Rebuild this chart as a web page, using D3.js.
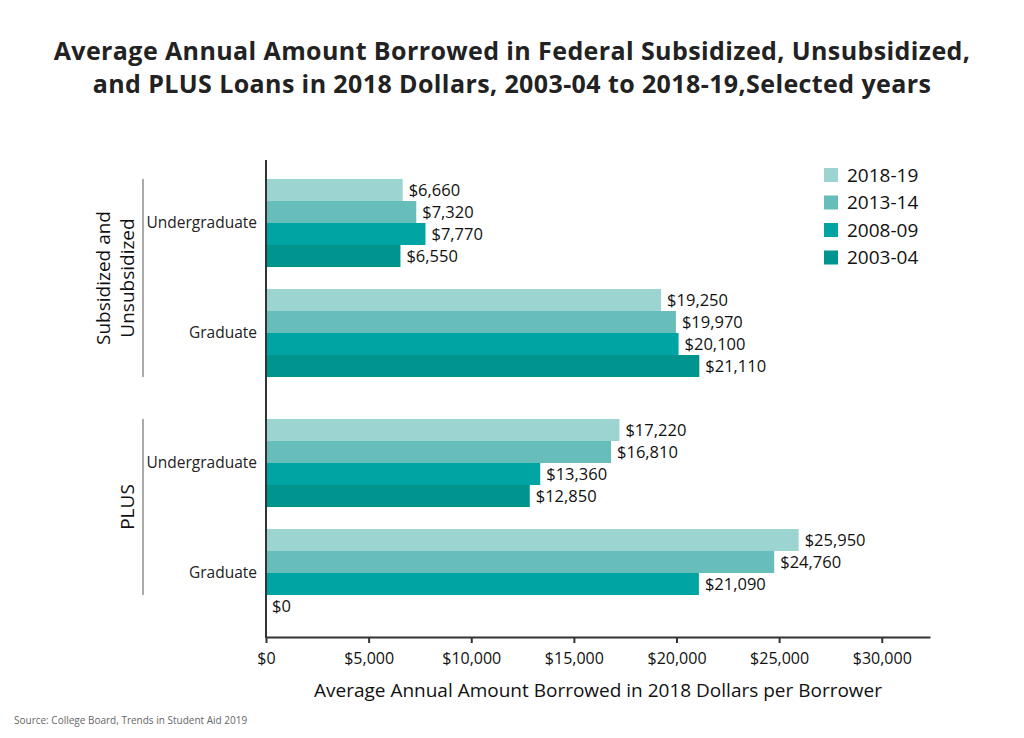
<!DOCTYPE html>
<html><head><meta charset="utf-8">
<script src="https://cdn.jsdelivr.net/npm/d3@7"></script>
<style>body{margin:0;background:#fff}svg{display:block}text{font-family:"Open Sans","Noto Sans",sans-serif}</style>
</head><body>
<script>
const loanTypes = ["Subsidized and Unsubsidized", "PLUS"];
const levels = ["Undergraduate", "Graduate"];
const years = ["2018-19", "2013-14", "2008-09", "2003-04"];
const subUndergrad = [6660, 7320, 7770, 6550];
const subGraduate = [19250, 19970, 20100, 21110];
const plusUndergrad = [17220, 16810, 13360, 12850];
const plusGraduate = [25950, 24760, 21090, 0];
const xTicks = [0, 5000, 10000, 15000, 20000, 25000, 30000];
const colors = ["#9bd4d1", "#66bdb9", "#00a5a3", "#00948f"];

const values = {
  "Subsidized and Unsubsidized": {Undergraduate: subUndergrad, Graduate: subGraduate},
  "PLUS": {Undergraduate: plusUndergrad, Graduate: plusGraduate}
};

const W = 1024, H = 738;
const svg = d3.select("body").append("svg").attr("width", W).attr("height", H);

// title
svg.append("text").attr("x", 512).attr("y", 60).attr("text-anchor", "middle")
  .attr("font-size", 25).attr("font-weight", 700).attr("fill", "#222").attr("letter-spacing", 0.4)
  .text("Average Annual Amount Borrowed in Federal Subsidized, Unsubsidized,");
svg.append("text").attr("x", 512).attr("y", 93).attr("text-anchor", "middle")
  .attr("font-size", 25).attr("font-weight", 700).attr("fill", "#222").attr("letter-spacing", 0.4)
  .text("and PLUS Loans in 2018 Dollars, 2003-04 to 2018-19,Selected years");

const x = d3.scaleLinear().domain([0, 32350]).range([266, 930]);
const yOuter = d3.scaleBand().domain(loanTypes).range([168, 628]).paddingInner(20/240).paddingOuter(0);
const yInner = d3.scaleBand().domain(levels).range([0, yOuter.bandwidth()]).paddingInner(0.2).paddingOuter(0.1);
const yBar = d3.scaleBand().domain(years).range([0, yInner.bandwidth()]).padding(0);
const color = d3.scaleOrdinal().domain(years).range(colors);

// bars
loanTypes.forEach(t => {
  const gT = svg.append("g").attr("transform", `translate(0,${yOuter(t)})`);
  levels.forEach(l => {
    const g = gT.append("g").attr("transform", `translate(0,${yInner(l)})`);
    const data = years.map((y, i) => ({year: y, v: values[t][l][i]}));
    g.selectAll("rect").data(data).join("rect")
      .attr("x", x(0)).attr("y", d => yBar(d.year))
      .attr("width", d => x(d.v) - x(0)).attr("height", yBar.bandwidth())
      .attr("fill", d => color(d.year));
    g.selectAll("text.val").data(data).join("text").attr("class", "val")
      .attr("x", d => x(d.v) + 6).attr("y", d => yBar(d.year) + yBar.bandwidth()/2)
      .attr("dy", "0.35em").attr("font-size", 16.5).attr("fill", "#111")
      .text(d => "$" + d3.format(",")(d.v));
    g.append("text").attr("x", 257).attr("y", yInner.bandwidth()/2).attr("dy", "0.3em")
      .attr("text-anchor", "end").attr("font-size", 15.5).attr("fill", "#222").text(l);
  });
  // bracket line
  const first = yOuter(t) + yInner(levels[0]);
  const lastVals = values[t][levels[levels.length-1]];
  let lastIdx = 0;
  lastVals.forEach((v, i) => { if (v > 0) lastIdx = i; });
  const end = yOuter(t) + yInner(levels[levels.length-1]) + yBar(years[lastIdx]) + yBar.bandwidth();
  svg.append("line").attr("x1", 143).attr("x2", 143).attr("y1", first).attr("y2", end)
    .attr("stroke", "#aaa").attr("stroke-width", 2);
  const cy = (first + end) / 2;
  const words = t === "Subsidized and Unsubsidized" ? ["Subsidized and", "Unsubsidized"] : ["PLUS"];
  const tx = svg.append("text").attr("transform", `translate(0,${cy}) rotate(-90)`)
    .attr("text-anchor", "middle").attr("font-size", 19).attr("fill", "#111");
  words.forEach((w, i) => {
    const xp = 134 - (words.length - 1 - i) * 24;
    tx.append("tspan").attr("x", 0).attr("y", xp).text(w);
  });
});

// axes
const xAxis = d3.axisBottom(x).tickValues(xTicks).tickFormat(d => "$" + d3.format(",")(d)).tickSize(6).tickSizeOuter(0);
const ga = svg.append("g").attr("transform", "translate(0,637)").call(xAxis);
ga.select(".domain").attr("stroke", "#333").attr("stroke-width", 2);
ga.selectAll(".tick line").attr("stroke", "#333").attr("stroke-width", 2);
ga.selectAll(".tick text").attr("font-size", 16).attr("fill", "#111").attr("dy", "1.1em")
  .attr("font-family", "'Open Sans', sans-serif");
svg.append("line").attr("x1", x(0)).attr("x2", x(0)).attr("y1", 160).attr("y2", 638)
  .attr("stroke", "#333").attr("stroke-width", 2);

svg.append("text").attr("x", 598).attr("y", 697).attr("text-anchor", "middle")
  .attr("font-size", 19).attr("fill", "#111")
  .text("Average Annual Amount Borrowed in 2018 Dollars per Borrower");

// legend
const lg = svg.append("g").attr("transform", "translate(824,168)");
years.forEach((y, i) => {
  lg.append("rect").attr("x", 0).attr("y", i * 27.5).attr("width", 14).attr("height", 14).attr("fill", color(y));
  lg.append("text").attr("x", 23).attr("y", i * 27.5 + 7).attr("dy", "0.35em")
    .attr("font-size", 19).attr("fill", "#111").text(y);
});

svg.append("text").attr("x", 14).attr("y", 724).attr("font-size", 10).attr("fill", "#666")
  .text("Source: College Board, Trends in Student Aid 2019");
</script>
</body></html>
